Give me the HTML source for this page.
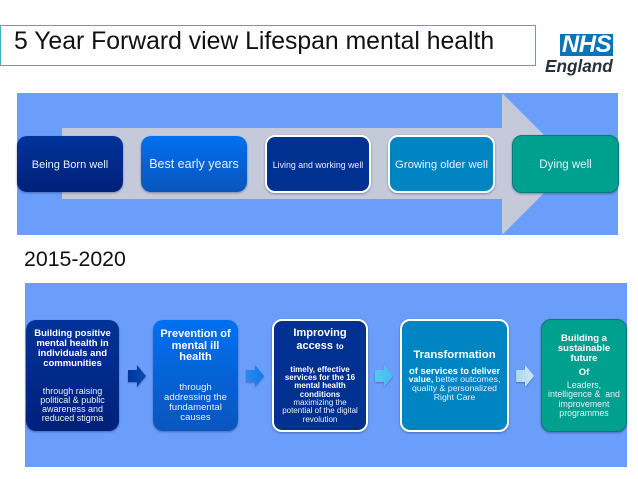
<!DOCTYPE html>
<html>
<head>
<meta charset="utf-8">
<style>
html,body{margin:0;padding:0;background:#fff}
#p{position:relative;width:638px;height:479px;overflow:hidden;background:#fff;font-family:"Liberation Sans",sans-serif}
#p div{position:absolute;box-sizing:border-box}
.b{border-radius:10px;box-shadow:0 1px 2px rgba(30,40,90,.45)}
.w{border:2px solid #fff}
.c1{background:linear-gradient(#003399,#00207a)}
.c2{background:linear-gradient(#0070f0,#0a55bd)}
.c3{background:#003090}
.c4{background:#0085c3}
.c5{background:#00a08e;border:1px solid #087b78}
.l{left:0;right:0;text-align:center;color:#e8f0fa;white-space:nowrap;height:12px;margin-top:1px}
.t{color:#fff;font-weight:bold}
</style>
</head>
<body>
<div id="p">
<div style="left:0;top:25px;width:536px;height:41px;border:1px solid #3fb0bc"></div>
<div style="left:14px;top:26px;font-size:24.75px;line-height:32px;color:#111;white-space:nowrap">5 Year Forward view Lifespan mental health</div>

<div style="left:560px;top:34px;width:53px;height:22px;background:#0a74b8;color:#fff;font:italic bold 24px/22px 'Liberation Sans',sans-serif;text-align:center;letter-spacing:-.5px">NHS</div>
<div style="left:545px;top:56px;width:70px;font:italic bold 17.2px/21px 'Liberation Sans',sans-serif;color:#2b3038;white-space:nowrap">England</div>

<div style="left:17px;top:93px;width:601px;height:142px;background:#6b9efa"></div>
<svg style="position:absolute;left:0;top:0" width="638" height="479">
<polygon points="62,128 502,128 502,93 573,164 502,235 502,200 62,200" fill="#c5cadb"/>
<polygon points="62,199 502,199 502,200 62,200" fill="#8f9ab8"/>
</svg>

<div class="b c1" style="left:17px;top:136px;width:106px;height:56px"><div class="l" style="top:22px;font-size:11px;line-height:12px">Being Born well</div></div>
<div class="b c2" style="left:141px;top:136px;width:106px;height:56px"><div class="l" style="top:20px;font-size:12.5px;line-height:15px;height:15px">Best early years</div></div>
<div class="b w c3" style="left:265px;top:135px;width:106px;height:58px"><div class="l" style="top:21px;font-size:8.8px;line-height:12px">Living and working well</div></div>
<div class="b w c4" style="left:388px;top:135px;width:107px;height:58px"><div class="l" style="top:21px;font-size:11.3px;line-height:12px">Growing older well</div></div>
<div class="b c5" style="left:512px;top:135px;width:107px;height:58px"><div class="l" style="top:22px;font-size:11.5px;line-height:12px">Dying well</div></div>

<div style="left:24px;top:247px;font-size:21.3px;line-height:24px;color:#111">2015-2020</div>

<div style="left:25px;top:283px;width:602px;height:184px;background:#6b9efa"></div>

<div class="b c1" style="left:26px;top:320px;width:93px;height:111px">
<div class="l t" style="top:7px;font-size:9.5px">Building positive</div>
<div class="l t" style="top:17px;font-size:9.5px">mental health in</div>
<div class="l t" style="top:27px;font-size:9.5px">individuals and</div>
<div class="l t" style="top:37px;font-size:9.5px">communities</div>
<div class="l" style="top:65px;font-size:9px">through raising</div>
<div class="l" style="top:74px;font-size:9px">political &amp; public</div>
<div class="l" style="top:83px;font-size:9px">awareness and</div>
<div class="l" style="top:92px;font-size:9px">reduced stigma</div>
</div>

<div class="b c2" style="left:153px;top:320px;width:85px;height:111px">
<div class="l t" style="top:6px;font-size:11px;height:14px;line-height:14px">Prevention of</div>
<div class="l t" style="top:18px;font-size:11px;height:14px;line-height:14px">mental ill</div>
<div class="l t" style="top:29px;font-size:11px;height:14px;line-height:14px">health</div>
<div class="l" style="top:61px;font-size:9.6px">through</div>
<div class="l" style="top:71px;font-size:9.6px">addressing the</div>
<div class="l" style="top:81px;font-size:9.6px">fundamental</div>
<div class="l" style="top:91px;font-size:9.6px">causes</div>
</div>

<div class="b w c3" style="left:272px;top:319px;width:96px;height:113px">
<div class="l t" style="top:4px;font-size:11px;height:14px;line-height:14px">Improving</div>
<div class="l t" style="top:17px;font-size:11px;height:14px;line-height:14px">access <span style="font-size:8px">to</span></div>
<div class="l t" style="top:43px;font-size:8px">timely, effective</div>
<div class="l t" style="top:51px;font-size:8px">services for the 16</div>
<div class="l t" style="top:59px;font-size:8px">mental health</div>
<div class="l t" style="top:68px;font-size:8px">conditions</div>
<div class="l" style="top:76px;font-size:8px">maximizing the</div>
<div class="l" style="top:84px;font-size:8px">potential of the digital</div>
<div class="l" style="top:93px;font-size:8px">revolution</div>
</div>

<div class="b w c4" style="left:400px;top:319px;width:109px;height:113px">
<div class="l t" style="top:26px;font-size:11.3px;height:14px;line-height:14px">Transformation</div>
<div class="l t" style="top:43px;font-size:8.9px"><span style="font-size:9.4px">of services</span> to deliver</div>
<div class="l" style="top:52px;font-size:8.7px"><b style="color:#fff">value,</b> better outcomes,</div>
<div class="l" style="top:61px;font-size:8.7px">quality &amp; personalized</div>
<div class="l" style="top:70px;font-size:8.7px">Right Care</div>
</div>

<div class="b c5" style="left:541px;top:319px;width:86px;height:113px">
<div class="l t" style="top:12px;font-size:9.5px">Building a</div>
<div class="l t" style="top:22px;font-size:9.5px">sustainable</div>
<div class="l t" style="top:32px;font-size:9.5px">future</div>
<div class="l t" style="top:46px;font-size:9.5px">Of</div>
<div class="l" style="top:59px;font-size:8.8px">Leaders,</div>
<div class="l" style="top:68px;font-size:8.8px">intelligence &amp;&nbsp; and</div>
<div class="l" style="top:78px;font-size:8.8px">improvement</div>
<div class="l" style="top:87px;font-size:8.8px">programmes</div>
</div>

<svg style="position:absolute;left:0;top:0" width="638" height="479">
<defs>
<linearGradient id="a1" x1="0" x2="1"><stop offset="0" stop-color="#00349c"/><stop offset="1" stop-color="#0a4cb0"/></linearGradient>
<linearGradient id="a2" x1="0" x2="1"><stop offset="0" stop-color="#2a8af0"/><stop offset="1" stop-color="#0f78ea"/></linearGradient>
<linearGradient id="a3" x1="0" x2="1"><stop offset="0" stop-color="#5cc4f0"/><stop offset="1" stop-color="#40c0ec"/></linearGradient>
<linearGradient id="a4" x1="0" x2="1"><stop offset="0" stop-color="#a8d8ec"/><stop offset="1" stop-color="#cdeaf0"/></linearGradient>
<filter id="s" x="-20%" y="-20%" width="140%" height="150%"><feDropShadow dx="0" dy="1" stdDeviation=".7" flood-color="#2a3a80" flood-opacity=".5"/></filter>
</defs>
<g filter="url(#s)">
<polygon points="128,370 137,370 137,365 146,376 137,387 137,382 128,382" fill="url(#a1)"/>
<polygon points="246,370 255,370 255,365 264,376 255,387 255,382 246,382" fill="url(#a2)"/>
<polygon points="375,370 384,370 384,365 393,376 384,387 384,382 375,382" fill="url(#a3)"/>
<polygon points="516,370 525,370 525,365 534,376 525,387 525,382 516,382" fill="url(#a4)"/>
</g>
</svg>
</div>
</body>
</html>
